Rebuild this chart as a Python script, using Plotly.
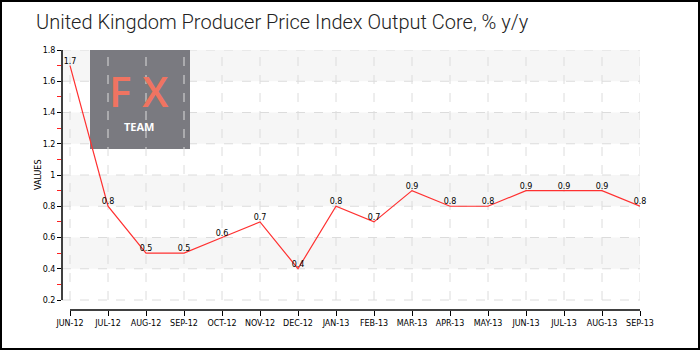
import plotly.graph_objects as go

categories = ["JUN-12", "JUL-12", "AUG-12", "SEP-12", "OCT-12", "NOV-12", "DEC-12", "JAN-13",
              "FEB-13", "MAR-13", "APR-13", "MAY-13", "JUN-13", "JUL-13", "AUG-13", "SEP-13"]
values = [1.7, 0.8, 0.5, 0.5, 0.6, 0.7, 0.4, 0.8, 0.7, 0.9, 0.8, 0.8, 0.9, 0.9, 0.9, 0.8]
y_ticks = [0.2, 0.4, 0.6, 0.8, 1.0, 1.2, 1.4, 1.6, 1.8]
y_ticktext = ["0.2", "0.4", "0.6", "0.8", "1", "1.2", "1.4", "1.6", "1.8"]
title = "United Kingdom Producer Price Index Output Core, % y/y"

W, H = 700, 350
L, R, T, B = 62, 60, 50, 40
pw, ph = W - L - R, H - T - B
def px(x): return (x - L) / pw
def py(y): return (H - B - y) / ph

fig = go.Figure()
fig.add_trace(go.Scatter(
    x=categories, y=values, mode="lines+text",
    text=[f"{v:g}" for v in values], textposition="top center",
    textfont=dict(size=8, color="#000", family="DejaVu Sans"),
    line=dict(color="#ff3030", width=1.2), cliponaxis=False, hoverinfo="skip"))

shapes = []
# alternating bands
for i in range(len(y_ticks) - 1):
    if i % 2 == 1:
        shapes.append(dict(type="rect", xref="paper", yref="y", x0=0, x1=1,
                           y0=y_ticks[i], y1=y_ticks[i + 1], fillcolor="#f6f6f6",
                           line=dict(width=0), layer="below"))
# horizontal gridlines
for v in y_ticks:
    shapes.append(dict(type="line", xref="paper", yref="y", x0=0, x1=1, y0=v, y1=v,
                       line=dict(color="#dcdcdc", width=1, dash="dash"), layer="below"))
# vertical gridlines
for i in range(len(categories)):
    shapes.append(dict(type="line", xref="x", yref="y", x0=i, x1=i, y0=y_ticks[0], y1=y_ticks[-1],
                       line=dict(color="#dcdcdc", width=1, dash="dash"), layer="below"))
# logo box
shapes.append(dict(type="rect", xref="paper", yref="paper", x0=px(90), x1=px(190), y0=py(149), y1=py(50),
                   fillcolor="#7a7a80", line=dict(width=0), layer="below"))
# y axis line
shapes.append(dict(type="line", xref="paper", yref="y", x0=0, x1=0, y0=y_ticks[0], y1=y_ticks[-1],
                   line=dict(color="#000", width=1.5)))
# x axis line
shapes.append(dict(type="line", xref="x", yref="paper", x0=0, x1=len(categories) - 1, y0=0, y1=0,
                   line=dict(color="#000", width=1.5)))
# border
shapes.append(dict(type="rect", xref="paper", yref="paper", x0=px(1), x1=px(699), y0=py(349), y1=py(1),
                   line=dict(color="#000", width=2)))

annotations = [
    dict(text=title, xref="paper", yref="paper", x=px(34), y=py(22), xanchor="left", yanchor="middle",
         showarrow=False, font=dict(size=20, color="#222", family="Roboto", weight=300)),
    dict(text="VALUES", xref="paper", yref="paper", x=px(38), y=py(175), xanchor="center",
         yanchor="middle", textangle=-90,
         showarrow=False, font=dict(size=8, color="#000", family="DejaVu Sans")),
    dict(text="F X", xref="paper", yref="paper", x=px(139), y=py(90.5), xanchor="center",
         yanchor="middle",
         showarrow=False, font=dict(size=42, color="#f07461", family="Open Sans", weight=600)),
    dict(text="TEAM", xref="paper", yref="paper", x=px(139), y=py(127), xanchor="center",
         yanchor="middle",
         showarrow=False, font=dict(size=11, color="#ffffff", family="Open Sans", weight=700)),
]

yr0 = 0.2 - 10 * (1.6 / 250)
fig.update_layout(
    width=W, height=H, margin=dict(l=L, r=R, t=T, b=B),
    paper_bgcolor="#fff", plot_bgcolor="rgba(0,0,0,0)", showlegend=False,
    shapes=shapes, annotations=annotations,
    xaxis=dict(type="category", range=[-8 / 38, len(categories) - 1], showgrid=False, zeroline=False,
               showline=False, ticks="outside", ticklen=5, tickcolor="#000",
               tickfont=dict(size=8, color="#000", family="DejaVu Sans"), fixedrange=True),
    yaxis=dict(range=[yr0, 1.8], tickvals=y_ticks, ticktext=y_ticktext, showgrid=False,
               zeroline=False, showline=False,
               ticks="outside", ticklen=4, tickcolor="#000",
               tickfont=dict(size=8, color="#000", family="DejaVu Sans"),
               minor=dict(tickvals=[0.3, 0.5, 0.7, 0.9, 1.1, 1.3, 1.5, 1.7], ticks="outside",
                          ticklen=4, tickcolor="#ff2020", showgrid=False),
               fixedrange=True),
)
fig.write_html("out.html")
